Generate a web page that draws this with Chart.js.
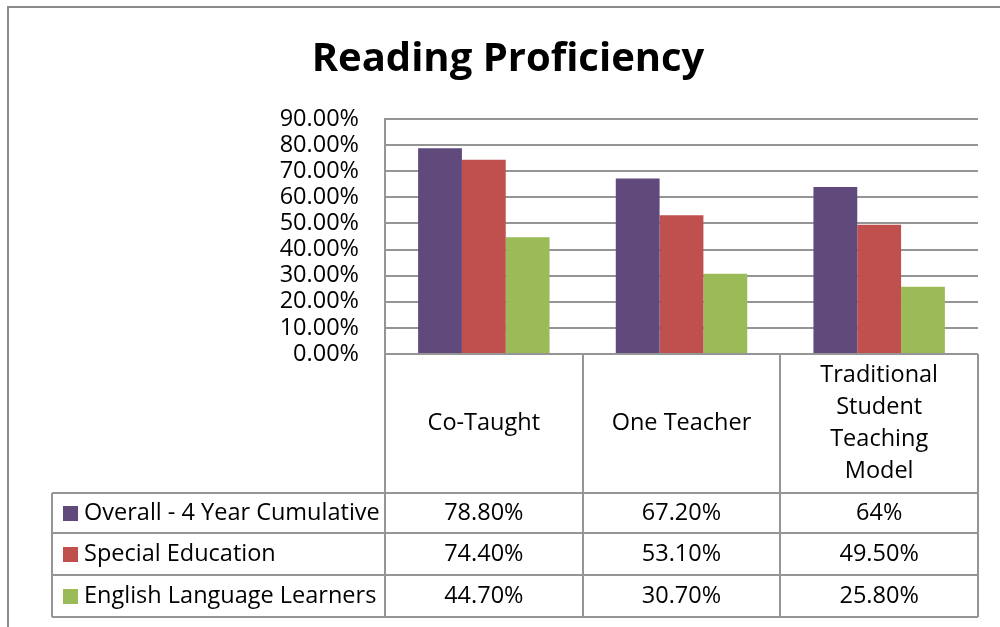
<!DOCTYPE html>
<html>
<head>
<meta charset="utf-8">
<script src="https://cdn.jsdelivr.net/npm/chart.js@4"></script>
<style>
html,body{margin:0;padding:0;background:#fff;}
#wrap{position:relative;width:1000px;height:627px;}
</style>
</head>
<body>
<div id="wrap"><canvas id="c" width="1000" height="627"></canvas></div>
<script>
const chartTitle = 'Reading Proficiency';
const categories = ['Co-Taught', 'One Teacher', ['Traditional', 'Student', 'Teaching', 'Model']];
const seriesNames = ['Overall - 4 Year Cumulative', 'Special Education', 'English Language Learners'];
const overall = [78.8, 67.2, 64];
const specialEd = [74.4, 53.1, 49.5];
const ell = [44.7, 30.7, 25.8];
const overallLabels = ['78.80%', '67.20%', '64%'];
const specialEdLabels = ['74.40%', '53.10%', '49.50%'];
const ellLabels = ['44.70%', '30.70%', '25.80%'];
const yTicks = [0, 10, 20, 30, 40, 50, 60, 70, 80, 90];

const colors = ['#604A7B', '#C0504D', '#9BBB59'];
const lineColor = '#959595';
const FONT = '"Open Sans", Lato, sans-serif';

const tablePlugin = {
  id: 'dataTable',
  afterDraw(chart) {
    const ctx = chart.ctx;
    const x = chart.scales.x;
    const area = chart.chartArea;
    ctx.save();
    // outer frame
    ctx.strokeStyle = '#8a8a8a';
    ctx.lineWidth = 2;
    ctx.beginPath();
    ctx.moveTo(8, 627); ctx.lineTo(8, 7); ctx.lineTo(1000, 7);
    ctx.stroke();

    // title
    ctx.fillStyle = '#000';
    ctx.font = 'bold 40px ' + FONT;
    ctx.textAlign = 'center';
    ctx.textBaseline = 'middle';
    ctx.fillText(chartTitle, 508, 60);

    // table geometry
    const n = categories.length;
    const colW = (area.right - area.left) / n;
    const bounds = [];
    for (let i = 0; i <= n; i++) bounds.push(Math.round(area.left + i * colW));
    const headTop = area.bottom;
    const rowTops = [493, 533, 575, 617];
    const legendLeft = 52;

    ctx.strokeStyle = lineColor;
    ctx.lineWidth = 2;
    ctx.beginPath();
    ctx.moveTo(area.left, headTop); ctx.lineTo(area.right, headTop);
    rowTops.forEach(y => { ctx.moveTo(legendLeft, y); ctx.lineTo(area.right, y); });
    bounds.forEach(bx => { ctx.moveTo(bx, headTop); ctx.lineTo(bx, rowTops[3]); });
    ctx.moveTo(legendLeft, rowTops[0]); ctx.lineTo(legendLeft, rowTops[3]);
    ctx.stroke();

    // category labels
    ctx.fillStyle = '#000';
    ctx.font = '23.5px ' + FONT;
    ctx.textAlign = 'center';
    ctx.textBaseline = 'middle';
    const headMid = (headTop + rowTops[0]) / 2;
    const lh = 32;
    categories.forEach((c, i) => {
      const cx = x.getPixelForValue(i);
      const lines = Array.isArray(c) ? c : [c];
      const start = headMid - (lines.length - 1) * lh / 2;
      lines.forEach((ln, j) => ctx.fillText(ln, cx, start + j * lh));
    });

    // rows
    const rowVals = [overallLabels, specialEdLabels, ellLabels];
    seriesNames.forEach((name, r) => {
      const cy = (rowTops[r] + rowTops[r + 1]) / 2;
      ctx.fillStyle = colors[r];
      ctx.fillRect(63, Math.round(cy - 7), 15, 15);
      ctx.fillStyle = '#000';
      ctx.textAlign = 'left';
      ctx.fillText(name, 84, cy);
      ctx.textAlign = 'center';
      rowVals[r].forEach((v, i) => ctx.fillText(v, x.getPixelForValue(i), cy));
    });
    ctx.restore();
  }
};

new Chart(document.getElementById('c'), {
  type: 'bar',
  data: {
    labels: categories,
    datasets: [
      { label: seriesNames[0], data: overall, backgroundColor: colors[0] },
      { label: seriesNames[1], data: specialEd, backgroundColor: colors[1] },
      { label: seriesNames[2], data: ell, backgroundColor: colors[2] }
    ]
  },
  options: {
    responsive: false,
    animation: false,
    layout: { padding: { left: 0, top: 119, right: 22, bottom: 273 } },
    datasets: { bar: { barPercentage: 1.0, categoryPercentage: 0.665 } },
    plugins: { legend: { display: false }, title: { display: false }, tooltip: { enabled: false } },
    scales: {
      x: { display: false },
      y: {
        min: 0, max: 90,
        afterBuildTicks(scale) { scale.ticks = yTicks.map(v => ({ value: v })); },
        afterFit(scale) { scale.width = 385; },
        border: { display: true, color: lineColor, width: 2 },
        grid: { color: lineColor, lineWidth: 2, drawTicks: false },
        ticks: {
          autoSkip: false,
          padding: 26,
          color: '#000',
          font: { family: FONT, size: 23.5 },
          callback: v => v.toFixed(2) + '%'
        }
      }
    }
  },
  plugins: [tablePlugin]
});
</script>
</body>
</html>
